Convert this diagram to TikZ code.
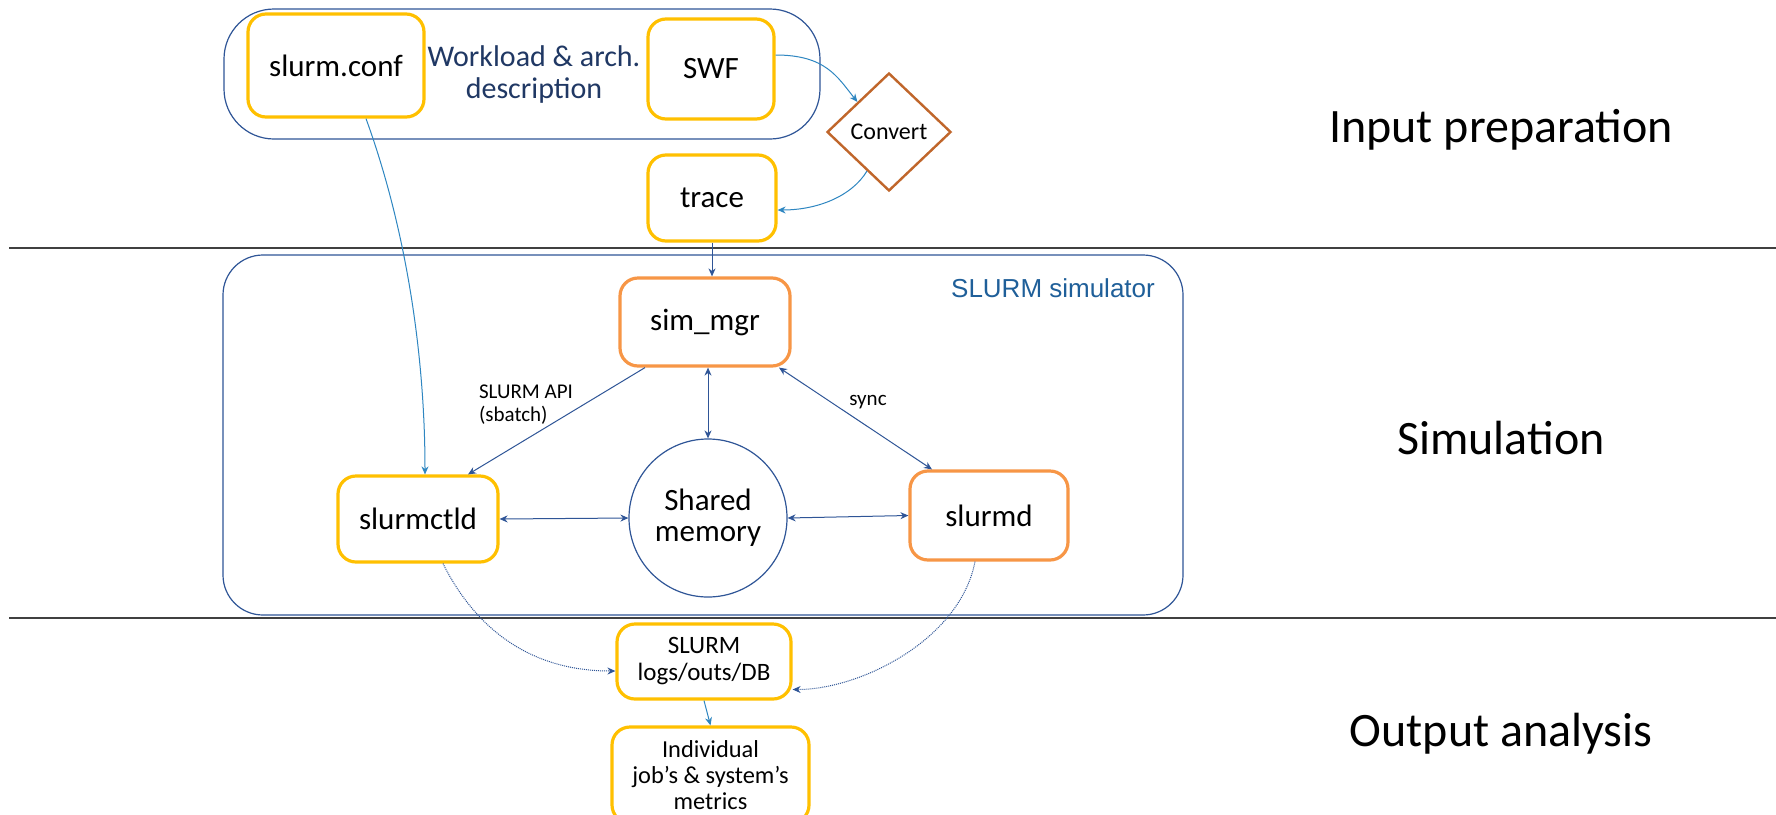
\documentclass[tikz,border=0pt]{standalone}
\usepackage{fontspec}
\setmainfont{Carlito}
\newfontfamily\helv{Liberation Sans}
\usetikzlibrary{shapes.geometric,arrows.meta,calc}
\definecolor{boxyellow}{HTML}{FFC000}
\definecolor{boxorange}{HTML}{F79646}
\definecolor{framenavy}{HTML}{2F5597}
\definecolor{textnavy}{HTML}{203864}
\definecolor{simblue}{HTML}{1F5F99}
\definecolor{lightarrow}{HTML}{2E86C1}
\definecolor{darkarrow}{HTML}{2F5597}
\definecolor{convbrown}{HTML}{C0662B}
\definecolor{rulegray}{HTML}{404040}
\begin{document}
\begin{tikzpicture}[x=0.5pt,y=-0.5pt,
  ybox/.style={draw=boxyellow,line width=1.6pt,rounded corners=9pt,fill=white,inner sep=0pt,align=center,font=\fontsize{15.5}{16}\selectfont},
  obox/.style={ybox,draw=boxorange},
  frame/.style={draw=framenavy,line width=0.6pt,inner sep=0pt},
  tipa/.tip={Stealth[length=4pt,width=3.5pt]},
  larr/.style={draw=lightarrow,line width=0.5pt,-tipa},
  darr/.style={draw=darkarrow,line width=0.5pt,-tipa},
  dboth/.style={draw=darkarrow,line width=0.5pt,tipa-tipa},
  dotarr/.style={darr,dash pattern=on 0.5pt off 0.5pt},
  side/.style={font=\fontsize{24}{28}\selectfont},
  small/.style={font=\fontsize{10.5}{11.5}\selectfont,align=left}
]
\useasboundingbox[fill=white] (0,0) rectangle (1776,814);

% frames
\node[frame,rounded corners=25pt,minimum width=298pt,minimum height=65pt] (inframe) at (522,74) {};
\node[frame,rounded corners=20pt,minimum width=480pt,minimum height=180pt] (simframe) at (703,435) {};

% horizontal rules
\draw[rulegray,line width=0.6pt] (9,248) -- (1776,248);
\draw[rulegray,line width=0.6pt] (9,618) -- (1776,618);

% input nodes
\node[ybox,minimum width=88pt,minimum height=51.5pt] (slurmconf) at (336,65.5) {slurm.conf};
\node[text=textnavy,align=center,font=\fontsize{15}{16}\selectfont] (workload) at (534,74) {Workload \& arch.\\description};
\node[ybox,minimum width=63pt,minimum height=50pt] (swf) at (711,69) {SWF};
\node[diamond,draw=convbrown,line width=1.2pt,fill=white,minimum width=62pt,minimum height=59pt,inner sep=0pt,font=\fontsize{12}{14}\selectfont] (convert) at (889,132) {Convert};
\node[ybox,minimum width=64pt,minimum height=43pt] (trace) at (712,198) {trace};

% simulation nodes
\node[text=simblue,font=\helv\fontsize{13}{15}\selectfont] (simlabel) at (1053,288) {SLURM simulator};
\node[obox,minimum width=85pt,minimum height=44pt] (simmgr) at (705,322) {sim\_mgr};
\node[ybox,minimum width=80pt,minimum height=43pt] (slurmctld) at (418,519) {slurmctld};
\node[circle,draw=darkarrow,line width=0.6pt,minimum size=79pt,inner sep=0pt,align=center,font=\fontsize{15.5}{15.5}\selectfont] (shm) at (708,518) {Shared\\memory};
\node[obox,minimum width=79pt,minimum height=44.5pt] (slurmd) at (989,515.5) {slurmd};
\node[small] (api) at (526,405) {SLURM API\\(sbatch)};
\node[small] (sync) at (868,402) {sync};

% output nodes
\node[ybox,minimum width=87pt,minimum height=37.5pt,font=\fontsize{12.5}{13.5}\selectfont] (logs) at (704,661.5) {SLURM\\logs/outs/DB};
\node[ybox,minimum width=98.5pt,minimum height=48pt,font=\fontsize{12.2}{13}\selectfont] (metrics) at (710.5,775) {Individual\\job's \& system’s\\metrics};

% side labels
\node[side] (lin) at (1501,130) {Input preparation};
\node[side] (lsim) at (1501,438) {Simulation};
\node[side] (lout) at (1501,734) {Output analysis};

% connectors
\draw[larr] ([yshift=7pt]swf.east) .. controls +(50,0) and +(-20,-25) .. (convert.north west);
\draw[larr] ($(convert.west)!0.65!(convert.south)$) .. controls +(-15,25) and +(40,0) .. ([yshift=-6pt]trace.east);
\draw[larr] ([xshift=15pt]slurmconf.south) .. controls +(40,110) and +(0,-120) .. ([xshift=3.5pt]slurmctld.north);
\draw[darr] (trace.south) -- (trace.south |- simmgr.north);
\draw[darr] ([xshift=-30pt]simmgr.south) -- ([xshift=25pt]slurmctld.north);
\draw[dboth] (shm.north |- simmgr.south) -- (shm.north);
\draw[dboth] ([xshift=37pt]simmgr.south) -- ([xshift=-28.5pt]slurmd.north);
\draw[dboth] (slurmctld.east) -- (shm.west);
\draw[dboth] (shm.east) -- (slurmd.west);
\draw[dotarr] ([xshift=12.5pt]slurmctld.south) .. controls +(30,60) and +(-90,0) .. ([yshift=-4.75pt]logs.west);
\draw[dotarr] ([xshift=-7pt]slurmd.south) .. controls +(-15,78) and +(68,0) .. ([yshift=-14pt]logs.east);
\draw[larr] (logs.south) -- (metrics.north);
\end{tikzpicture}
\end{document}
